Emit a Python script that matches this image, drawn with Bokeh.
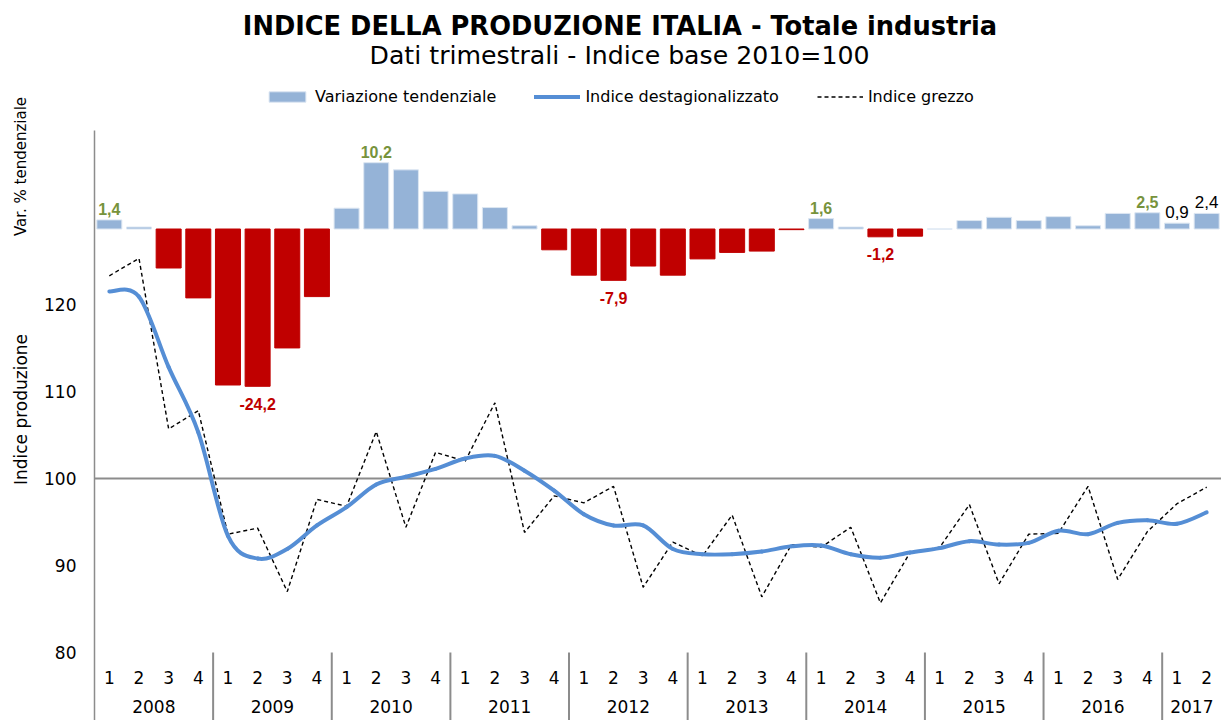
import numpy as np
from bokeh.plotting import figure
from bokeh.models import (Range1d, Legend, LegendItem, Label,
                          ColumnDataSource, CDSView, BooleanFilter)
from bokeh.embed import file_html
from bokeh.resources import INLINE
from bokeh.core.properties import value

# ---------------- data ----------------
year_labels = ["2008", "2009", "2010", "2011", "2012", "2013", "2014", "2015", "2016", "2017"]
quarters_per_year = [4, 4, 4, 4, 4, 4, 4, 4, 4, 2]
quarter_labels = ["1", "2", "3", "4"]

# Variazione tendenziale (%), secondary scale
var_tendenziale = [1.4, 0.3, -6.0, -10.6,
                   -24.0, -24.2, -18.3, -10.4,
                   3.2, 10.2, 9.1, 5.8,
                   5.4, 3.3, 0.5, -3.2,
                   -7.1, -7.9, -5.7, -7.1,
                   -4.6, -3.6, -3.4, -0.1,
                   1.6, 0.3, -1.2, -1.1,
                   0.0, 1.3, 1.8, 1.3,
                   1.9, 0.5, 2.4, 2.5,
                   0.9, 2.4]

# Indice destagionalizzato
indice_destag = [121.5, 120.9, 112.8, 105.3,
                 93.4, 90.8, 91.9, 94.6,
                 96.7, 99.3, 100.2, 101.1,
                 102.3, 102.6, 100.9, 98.6,
                 95.9, 94.6, 94.6, 91.9,
                 91.3, 91.3, 91.6, 92.2,
                 92.3, 91.3, 90.9, 91.5,
                 92.0, 92.8, 92.4, 92.6,
                 94.0, 93.6, 94.9, 95.2,
                 94.8, 96.1]

# Indice grezzo
indice_grezzo = [123.3, 125.3, 105.7, 107.8,
                 93.6, 94.3, 87.0, 97.6,
                 96.8, 105.4, 94.4, 103.0,
                 102.0, 108.7, 93.8, 98.0,
                 97.2, 99.1, 87.5, 92.7,
                 91.1, 95.8, 86.4, 92.4,
                 92.1, 94.4, 85.7, 91.5,
                 92.1, 97.0, 87.9, 93.6,
                 93.7, 99.1, 88.4, 93.9,
                 97.1, 99.0]

green_label_idx = [0, 9, 24, 35]
red_label_idx = [5, 17, 26]
plain_label_idx = [36, 37]

y_ticks = [80, 90, 100, 110, 120]
ref_level = 100

# ---------------- derived ----------------
quarters = [quarter_labels[j] for k in quarters_per_year for j in range(k)]
n = len(quarters)
xc = np.arange(n) + 0.5
year_centers = []
start = 0
for k in quarters_per_year:
    year_centers.append(start + k / 2.0)
    start += k
sep_x = [float(s) for s in np.cumsum(quarters_per_year)[:-1]]

def fmt(v):
    return f"{v:.1f}".replace(".", ",")

# smooth-line rendering (cubic Bezier through every data point, like a spreadsheet "smoothed line")
yd = np.asarray(indice_destag, dtype=float)
ypad = np.concatenate([[yd[0]], yd, [yd[-1]]])
xpad = np.concatenate([[xc[0]], xc, [xc[-1]]])
bz = dict(
    x0=xc[:-1], y0=yd[:-1], x1=xc[1:], y1=yd[1:],
    cx0=xc[:-1] + (xpad[2:-1] - xpad[:-3]) / 6.0, cy0=yd[:-1] + (ypad[2:-1] - ypad[:-3]) / 6.0,
    cx1=xc[1:] - (xpad[3:] - xpad[1:-2]) / 6.0, cy1=yd[1:] - (ypad[3:] - ypad[1:-2]) / 6.0,
)

# ---------------- style / layout ----------------
FONT = "DejaVu Sans"
LABEL_FONT = "Liberation Sans"
BLUE_BAR = "#95B3D7"
BAR_EDGE = "#DCE6F2"
RED_BAR = "#C00000"
LINE_BLUE = "#558ED5"
GREEN = "#77933C"
GRAY = "#8C8C8C"

W, H = 1221, 720
PX_LEFT = 94            # pixel where the category area starts
PX_80 = 652             # pixel row of the lowest tick
PX_PER_UNIT = 8.7       # index scale
PX_ZERO = 228.5         # pixel row of 0 % on the secondary scale
PX_PER_PCT = 6.5
PX_AXIS_TOP = 130

px_per_q = (W - PX_LEFT) / n
X0 = -PX_LEFT / px_per_q
Y_MAX = y_ticks[0] + PX_80 / PX_PER_UNIT
Y_MIN = y_ticks[0] - (H - PX_80) / PX_PER_UNIT
Y_AXIS_TOP = y_ticks[0] + (PX_80 - PX_AXIS_TOP) / PX_PER_UNIT
V_MAX = PX_ZERO / PX_PER_PCT
V_MIN = -(H - PX_ZERO) / PX_PER_PCT

p = figure(width=W, height=H, output_backend="svg", toolbar_location=None,
           x_range=Range1d(X0, n), y_range=Range1d(Y_MIN, Y_MAX),
           x_axis_location=None, y_axis_location=None, title=None,
           min_border_left=0, min_border_right=0, min_border_top=0, min_border_bottom=0)
p.outline_line_color = None
p.grid.visible = False
p.extra_y_ranges = {"var": Range1d(V_MIN, V_MAX)}

# value axis: line + tick labels
p.segment(x0=[0], y0=[Y_AXIS_TOP], x1=[0], y1=[Y_MIN], line_color=GRAY, line_width=1.5)
p.text(x=[0] * len(y_ticks), y=y_ticks, text=[str(t) for t in y_ticks],
       text_align="right", text_baseline="middle", x_offset=-18,
       text_font=value(FONT), text_font_size="17px", text_color="#000000")
# reference line at 100
p.segment(x0=[0], y0=[ref_level], x1=[n], y1=[ref_level], line_color=GRAY, line_width=2)

# bars
src = ColumnDataSource(dict(x=xc, v=var_tendenziale))
pos_view = CDSView(filter=BooleanFilter([v >= 0 for v in var_tendenziale]))
neg_view = CDSView(filter=BooleanFilter([v < 0 for v in var_tendenziale]))
r_pos = p.vbar(x="x", top="v", bottom=0, width=0.843, source=src, view=pos_view,
               y_range_name="var", fill_color=BLUE_BAR, line_color=BAR_EDGE, line_width=1)
r_neg = p.vbar(x="x", top="v", bottom=0, width=0.843, source=src, view=neg_view,
               y_range_name="var", fill_color=RED_BAR, line_color=RED_BAR, line_width=1)

# lines
r_grezzo = p.line(xc, indice_grezzo, line_color="black", line_width=1.4, line_dash="4 3")
r_destag = p.bezier(source=ColumnDataSource(bz), x0="x0", y0="y0", x1="x1", y1="y1",
                    cx0="cx0", cy0="cy0", cx1="cx1", cy1="cy1",
                    line_color=LINE_BLUE, line_width=4, line_cap="round")

# bar data labels
p.text(x=[xc[i] for i in green_label_idx], y=[var_tendenziale[i] for i in green_label_idx],
       text=[fmt(var_tendenziale[i]) for i in green_label_idx], y_range_name="var",
       text_align="center", text_baseline="alphabetic", y_offset=-11,
       text_font=value(LABEL_FONT), text_font_style="bold", text_font_size="16px",
       text_color=GREEN)
p.text(x=[xc[i] for i in red_label_idx], y=[var_tendenziale[i] for i in red_label_idx],
       text=[fmt(var_tendenziale[i]) for i in red_label_idx], y_range_name="var",
       text_align="center", text_baseline="top", y_offset=11.5,
       text_font=value(LABEL_FONT), text_font_style="bold", text_font_size="16px",
       text_color=RED_BAR)
p.text(x=[xc[i] for i in plain_label_idx], y=[var_tendenziale[i] for i in plain_label_idx],
       text=[fmt(var_tendenziale[i]) for i in plain_label_idx], y_range_name="var",
       text_align="center", text_baseline="alphabetic", y_offset=-11,
       text_font=value(LABEL_FONT), text_font_size="17px", text_color="#000000")

# category axis (quarters / years) with separators
p.text(x=xc, y=[y_ticks[0]] * n, text=quarters, text_align="center", text_baseline="middle",
       y_offset=25, text_font=value(FONT), text_font_size="17px", text_color="#000000")
p.text(x=year_centers, y=[y_ticks[0]] * len(year_centers), text=year_labels,
       text_align="center", text_baseline="middle", y_offset=54,
       text_font=value(FONT), text_font_size="17px", text_color="#000000")
p.segment(x0=sep_x, y0=[y_ticks[0]] * len(sep_x), x1=sep_x, y1=[Y_MIN] * len(sep_x),
          line_color=GRAY, line_width=2)

# titles and axis titles
p.add_layout(Label(x=619.5, y=H - 25, x_units="screen", y_units="screen",
                   text="INDICE DELLA PRODUZIONE ITALIA - Totale industria",
                   text_align="center", text_baseline="middle", text_font=FONT,
                   text_font_size="25.7px", text_font_style="bold", text_color="#000000"))
p.add_layout(Label(x=619, y=H - 55, x_units="screen", y_units="screen",
                   text="Dati trimestrali - Indice base 2010=100",
                   text_align="center", text_baseline="middle", text_font=FONT,
                   text_font_size="25.2px", text_color="#000000"))
p.add_layout(Label(x=20, y=H - 166, x_units="screen", y_units="screen", angle=np.pi / 2,
                   text="Var. % tendenziale", text_align="center", text_baseline="middle",
                   text_font=FONT, text_font_size="15px", text_color="#000000"))
p.add_layout(Label(x=20, y=H - 409, x_units="screen", y_units="screen", angle=np.pi / 2,
                   text="Indice produzione", text_align="center", text_baseline="middle",
                   text_font=FONT, text_font_size="17px", text_color="#000000"))

legend = Legend(items=[LegendItem(label="Variazione tendenziale", renderers=[r_pos]),
                       LegendItem(label="Indice destagionalizzato", renderers=[r_destag]),
                       LegendItem(label="Indice grezzo", renderers=[r_grezzo])],
                orientation="horizontal", location=(264, H - 106),
                glyph_width=46, glyph_height=13, label_height=16, label_standoff=5,
                spacing=38, padding=0, margin=0, border_line_color=None,
                background_fill_alpha=0, label_text_font=FONT, label_text_font_size="16px",
                label_text_color="#000000")
p.add_layout(legend)

open("out.html", "w").write(file_html(p, INLINE))
